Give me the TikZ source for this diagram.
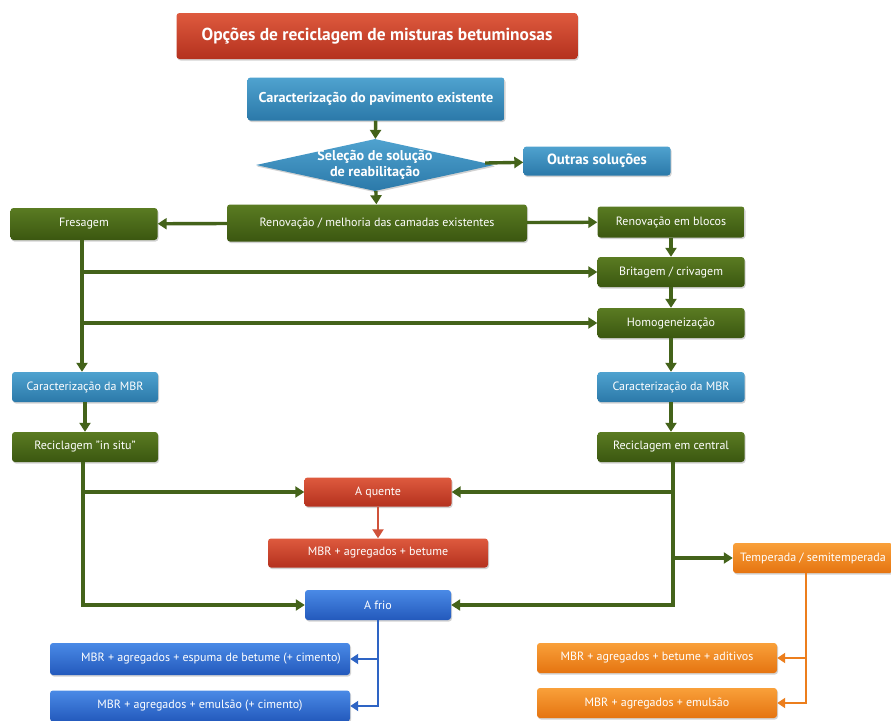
\documentclass[tikz,border=0pt]{standalone}
\usepackage{fontspec}
\setmainfont{PT Sans}
\usetikzlibrary{shapes.geometric,arrows.meta,shadows}

% palette
\definecolor{grnT}{HTML}{5A7B22}
\definecolor{grnB}{HTML}{3B5710}
\definecolor{grnL}{HTML}{44631A}
\definecolor{tealT}{HTML}{4FA2CF}
\definecolor{tealB}{HTML}{2B79A9}
\definecolor{redT}{HTML}{DE5A3E}
\definecolor{redB}{HTML}{B4311E}
\definecolor{redL}{HTML}{D0523A}
\definecolor{bluT}{HTML}{4A8AE6}
\definecolor{bluB}{HTML}{2359BC}
\definecolor{bluL}{HTML}{2E64C4}
\definecolor{orgT}{HTML}{F9A03A}
\definecolor{orgB}{HTML}{E57410}
\definecolor{orgL}{HTML}{EC7E1C}

\tikzset{
  box/.style={rectangle, rounded corners=3pt, inner sep=2pt, text=white,
    font=\fontsize{12}{14}\selectfont,
    drop shadow={shadow xshift=1pt, shadow yshift=-1.5pt, opacity=0.35}},
  greenbox/.style={box, top color=grnT, bottom color=grnB},
  tealbox/.style={box, top color=tealT, bottom color=tealB},
  redbox/.style={box, top color=redT, bottom color=redB},
  bluebox/.style={box, top color=bluT, bottom color=bluB},
  orangebox/.style={box, top color=orgT, bottom color=orgB},
  garrow/.style={draw=grnL, line width=3.4pt, -{Triangle[length=9pt,width=11pt]}},
  rarrow/.style={draw=redL, line width=2.8pt, -{Triangle[length=9pt,width=11pt]}},
  barrow/.style={draw=bluL, line width=2.6pt, -{Triangle[length=8pt,width=10pt]}},
  oarrow/.style={draw=orgL, line width=2.6pt, -{Triangle[length=8pt,width=10pt]}},
}

\begin{document}
\begin{tikzpicture}[x=1pt,y=1pt]
\useasboundingbox[fill=white] (0,0) rectangle (891,-720);

% header and first decision
\node[redbox, minimum width=401pt, minimum height=46pt, font=\bfseries\fontsize{17.4}{20}\selectfont] (title) at (377,-36) {Opções de reciclagem de misturas betuminosas};
\node[tealbox, minimum width=257pt, minimum height=43pt, font=\bfseries\fontsize{14.2}{16}\selectfont] (carac) at (376,-99) {Caracterização do pavimento existente};
\node[diamond, aspect=4.6, inner sep=0pt, minimum width=238pt, minimum height=52pt,
  top color=tealT, bottom color=tealB,
  drop shadow={shadow xshift=1pt, shadow yshift=-1.5pt, opacity=0.35},
  label={[text=white, align=center, font=\bfseries\fontsize{14.2}{16.5}\selectfont]center:Seleção de solução\\de reabilitação}] (sel) at (375,-165) {};
\node[tealbox, minimum width=147pt, minimum height=29pt, font=\bfseries\fontsize{14.8}{16}\selectfont] (outras) at (597,-161) {Outras soluções};

% rehabilitation branches
\node[greenbox, minimum width=300pt, minimum height=37pt] (renov) at (377,-223) {Renovação / melhoria das camadas existentes};
\node[greenbox, minimum width=147pt, minimum height=32pt] (fres) at (84,-224) {Fresagem};
\node[greenbox, minimum width=147pt, minimum height=31pt] (blocos) at (671,-222) {Renovação em blocos};
\node[greenbox, minimum width=147pt, minimum height=30pt] (brit) at (671,-272) {Britagem / crivagem};
\node[greenbox, minimum width=147pt, minimum height=30pt] (homog) at (671,-323) {Homogeneização};
\node[tealbox, minimum width=146pt, minimum height=30pt] (caracL) at (85,-387) {Caracterização da MBR};
\node[tealbox, minimum width=147pt, minimum height=30pt] (caracR) at (671,-387) {Caracterização da MBR};
\node[greenbox, minimum width=146pt, minimum height=30pt] (insitu) at (85,-447) {Reciclagem "in situ"};
\node[greenbox, minimum width=147pt, minimum height=30pt] (central) at (671,-447) {Reciclagem em central};

% recycling temperature
\node[redbox, minimum width=147pt, minimum height=29pt] (quente) at (378,-492) {A quente};
\node[redbox, minimum width=220pt, minimum height=29pt] (betume) at (378,-553) {MBR + agregados + betume};
\node[orangebox, minimum width=160pt, minimum height=30pt, inner sep=1pt] (temper) at (813,-558) {Temperada / semitemperada};
\node[bluebox, minimum width=146pt, minimum height=30pt] (frio) at (378,-605) {A frio};

% mixtures
\node[bluebox, minimum width=300pt, minimum height=32pt] (espuma) at (200,-659) {\hspace{22pt}MBR + agregados + espuma de betume (+ cimento)};
\node[bluebox, minimum width=300pt, minimum height=31pt] (emulc) at (200,-706) {MBR + agregados + emulsão (+ cimento)};
\node[orangebox, minimum width=240pt, minimum height=30pt] (aditiv) at (657,-658) {MBR + agregados + betume + aditivos};
\node[orangebox, minimum width=240pt, minimum height=30pt] (emul) at (657,-703) {MBR + agregados + emulsão};

% connectors
\draw[garrow] (carac) -- (sel);
\draw[garrow] (sel) -- (outras);
\draw[garrow] (sel) -- (renov);
\draw[garrow] (renov) -- (fres);
\draw[garrow] (renov) -- (blocos);
\draw[garrow] (blocos) -- (brit);
\draw[garrow] (brit) -- (homog);
\draw[garrow] (homog) -- (caracR);
\draw[garrow] (caracR) -- (central);

\coordinate (fresdown) at ([xshift=-2pt]fres.south);
\draw[garrow] (fresdown) -- (fresdown |- caracL.north);
\draw[garrow] (fresdown |- brit.west) -- (brit.west);
\draw[garrow] (fresdown |- homog.west) -- (homog.west);
\draw[garrow] (caracL) -- (insitu);

\coordinate (insdown) at ([xshift=-2pt]insitu.south);
\draw[garrow] (insdown) |- (quente.west);
\draw[garrow] (insdown) |- (frio.west);

\coordinate (cendown) at ([xshift=2pt]central.south);
\draw[garrow] (cendown) |- (quente.east);
\draw[garrow] (cendown) |- (temper.west);
\draw[garrow] (cendown) |- (frio.east);

\draw[rarrow] (quente) -- (betume);

\draw[barrow] (frio.south) |- (espuma.east);
\draw[barrow] (frio.south) |- (emulc.east);

\coordinate (tempdown) at ([xshift=-7pt]temper.south);
\draw[oarrow] (tempdown) |- (aditiv.east);
\draw[oarrow] (tempdown) |- (emul.east);
\end{tikzpicture}
\end{document}
